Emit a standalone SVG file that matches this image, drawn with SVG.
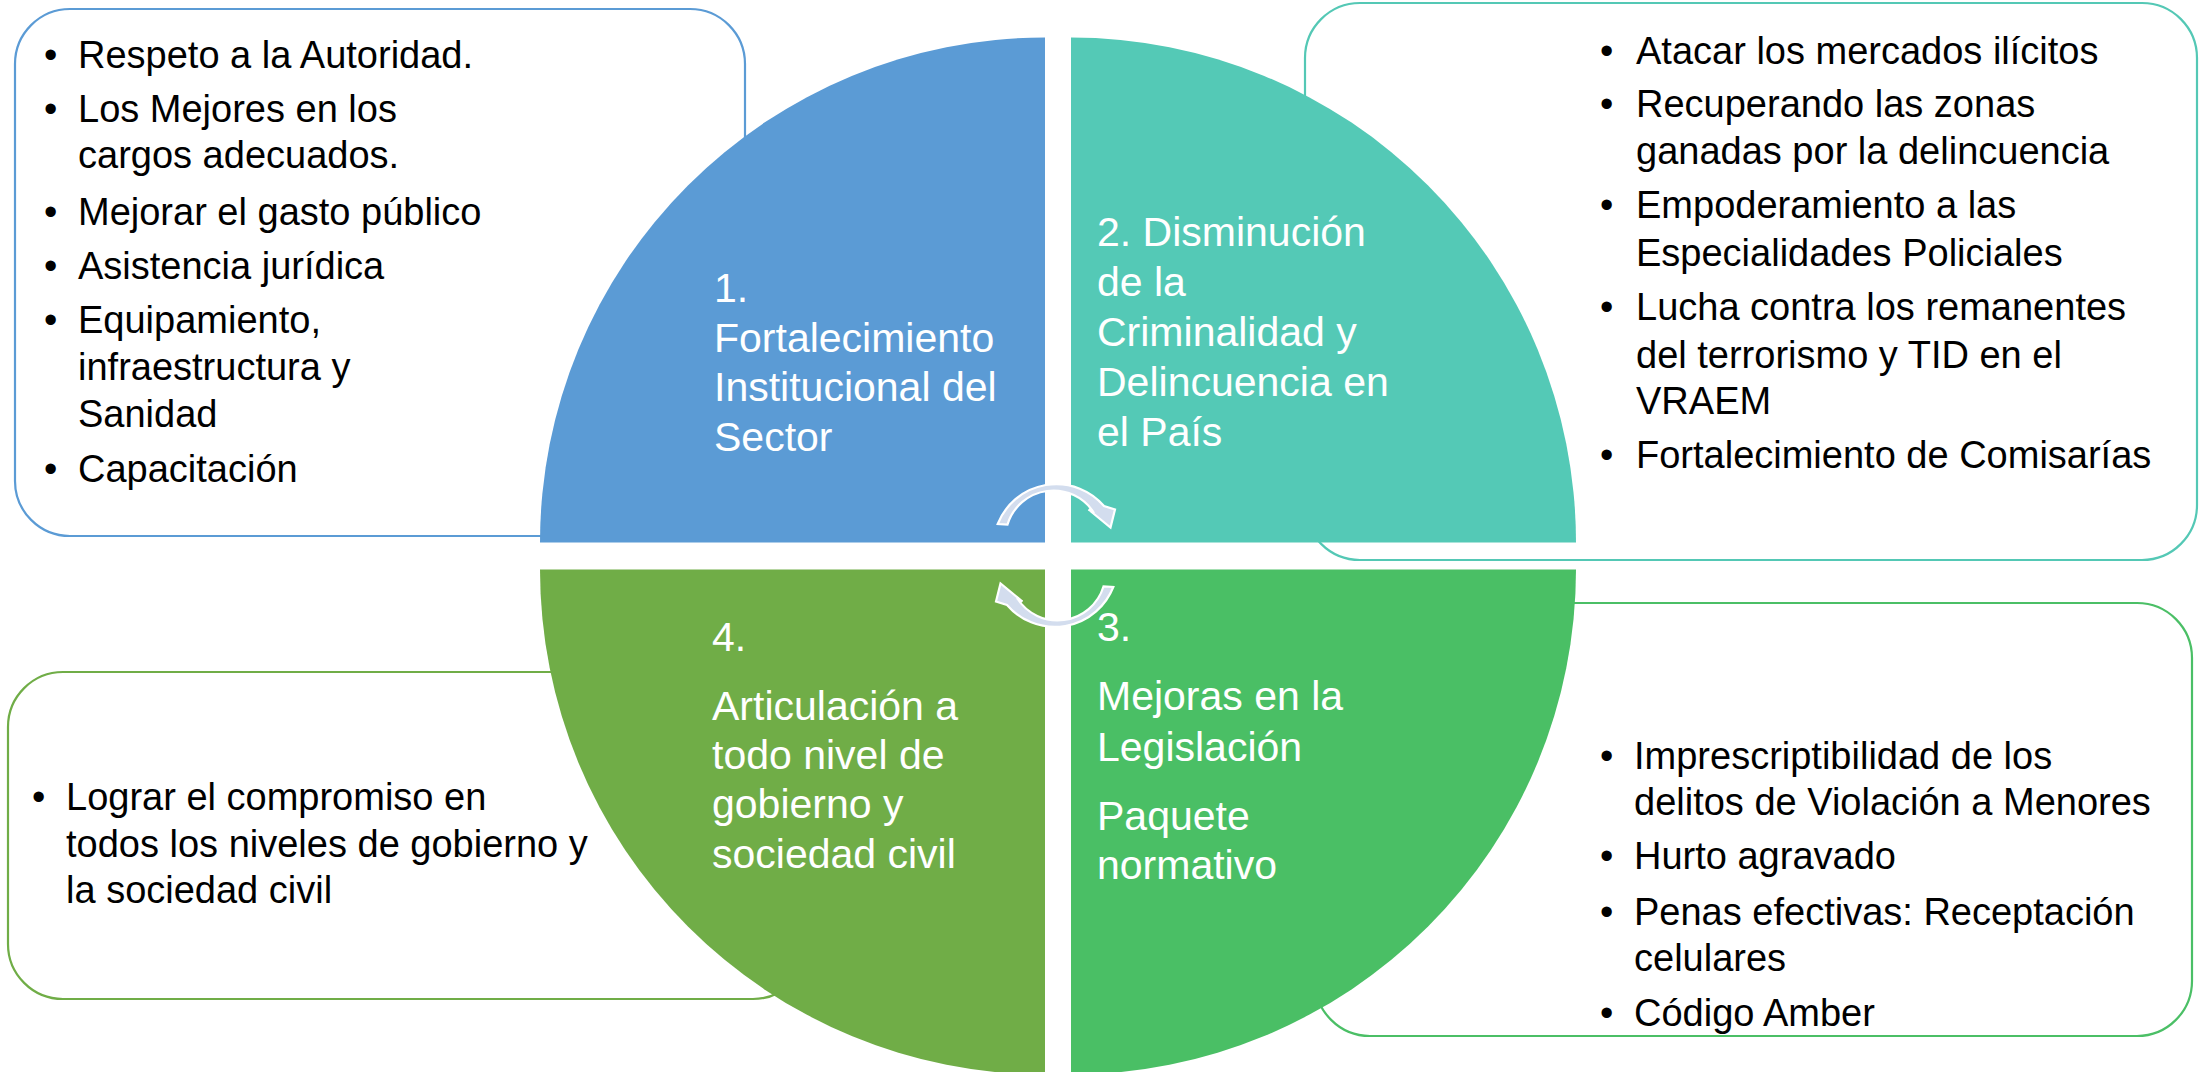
<svg xmlns="http://www.w3.org/2000/svg" width="2205" height="1072" viewBox="0 0 2205 1072">
<defs>
<style>
.box{fill:#fff;stroke-width:2.2}
.bt{font-family:"Liberation Sans",Arial,sans-serif;font-size:38px;fill:#000}
.qt{font-family:"Liberation Sans",Arial,sans-serif;font-size:41px;fill:#fff}
.arr{fill:#D3DDEE;stroke:#fff;stroke-width:2.2;stroke-linejoin:miter}
</style>
<path id="arrowTop" d="M997.7,524 A63,63 0 0 1 1104,506 L1115,509.5 L1110.5,527.5 L1088.5,509.5 L1094,513 A48,48 0 0 0 1007.5,524.5 Z"/>
</defs>
<rect width="2205" height="1072" fill="#fff"/>

<g id="box-1">
<rect class="box" x="15" y="9" width="730" height="527" rx="55" stroke="#5B9BD5"/>
<g class="bt">
<text x="44" y="68">•</text><text x="78" y="68">Respeto a la Autoridad.</text>
<text x="44" y="122">•</text><text x="78" y="122">Los Mejores en los</text>
<text x="78" y="168">cargos adecuados.</text>
<text x="44" y="225">•</text><text x="78" y="225">Mejorar el gasto público</text>
<text x="44" y="279">•</text><text x="78" y="279">Asistencia jurídica</text>
<text x="44" y="333">•</text><text x="78" y="333">Equipamiento,</text>
<text x="78" y="380">infraestructura y</text>
<text x="78" y="427">Sanidad</text>
<text x="44" y="482">•</text><text x="78" y="482">Capacitación</text>
</g>
</g>

<g id="box-2">
<rect class="box" x="1305" y="3" width="892" height="557" rx="55" stroke="#54C8B5"/>
<g class="bt">
<text x="1600" y="64">•</text><text x="1636" y="64">Atacar los mercados ilícitos</text>
<text x="1600" y="117">•</text><text x="1636" y="117">Recuperando las zonas</text>
<text x="1636" y="164">ganadas por la delincuencia</text>
<text x="1600" y="218">•</text><text x="1636" y="218">Empoderamiento a las</text>
<text x="1636" y="266">Especialidades Policiales</text>
<text x="1600" y="320">•</text><text x="1636" y="320">Lucha contra los remanentes</text>
<text x="1636" y="368">del terrorismo y TID en el</text>
<text x="1636" y="414">VRAEM</text>
<text x="1600" y="468">•</text><text x="1636" y="468">Fortalecimiento de Comisarías</text>
</g>
</g>

<g id="box-4">
<rect class="box" x="8" y="672" width="800" height="327" rx="55" stroke="#70AD47"/>
<g class="bt">
<text x="32" y="810">•</text><text x="66" y="810">Lograr el compromiso en</text>
<text x="66" y="857">todos los niveles de gobierno y</text>
<text x="66" y="903">la sociedad civil</text>
</g>
</g>

<g id="box-3">
<rect class="box" x="1315" y="603" width="877" height="433" rx="55" stroke="#4BBF66"/>
<g class="bt">
<text x="1600" y="769">•</text><text x="1634" y="769">Imprescriptibilidad de los</text>
<text x="1634" y="815">delitos de Violación a Menores</text>
<text x="1600" y="869">•</text><text x="1634" y="869">Hurto agravado</text>
<text x="1600" y="925">•</text><text x="1634" y="925">Penas efectivas: Receptación</text>
<text x="1634" y="971">celulares</text>
<text x="1600" y="1026">•</text><text x="1634" y="1026">Código Amber</text>
</g>
</g>

<g id="quad-1">
<path d="M1045,542.5 H540 A505,505 0 0 1 1045,37.5 Z" fill="#5B9BD5"/>
<g class="qt">
<text x="714" y="302">1.</text>
<text x="714" y="352">Fortalecimiento</text>
<text x="714" y="401">Institucional del</text>
<text x="714" y="451">Sector</text>
</g>
</g>

<g id="quad-2">
<path d="M1071,542.5 V37.5 A505,505 0 0 1 1576,542.5 Z" fill="#54C9B6"/>
<g class="qt">
<text x="1097" y="246">2. Disminución</text>
<text x="1097" y="296">de la</text>
<text x="1097" y="346">Criminalidad y</text>
<text x="1097" y="396">Delincuencia en</text>
<text x="1097" y="446">el País</text>
</g>
</g>

<g id="quad-4">
<path d="M1045,569.5 V1074.5 A505,505 0 0 1 540,569.5 Z" fill="#70AD47"/>
<g class="qt">
<text x="712" y="651">4.</text>
<text x="712" y="720">Articulación a</text>
<text x="712" y="769">todo nivel de</text>
<text x="712" y="818">gobierno y</text>
<text x="712" y="868">sociedad civil</text>
</g>
</g>

<g id="quad-3">
<path d="M1071,569.5 H1576 A505,505 0 0 1 1071,1074.5 Z" fill="#4ABF65"/>
<g class="qt">
<text x="1097" y="641">3.</text>
<text x="1097" y="710">Mejoras en la</text>
<text x="1097" y="761">Legislación</text>
<text x="1097" y="830">Paquete</text>
<text x="1097" y="879">normativo</text>
</g>
</g>

<g id="connectors">
<use href="#arrowTop" class="arr"/>
<use href="#arrowTop" class="arr" transform="rotate(180 1055.5 555.5)"/>
</g>
</svg>
